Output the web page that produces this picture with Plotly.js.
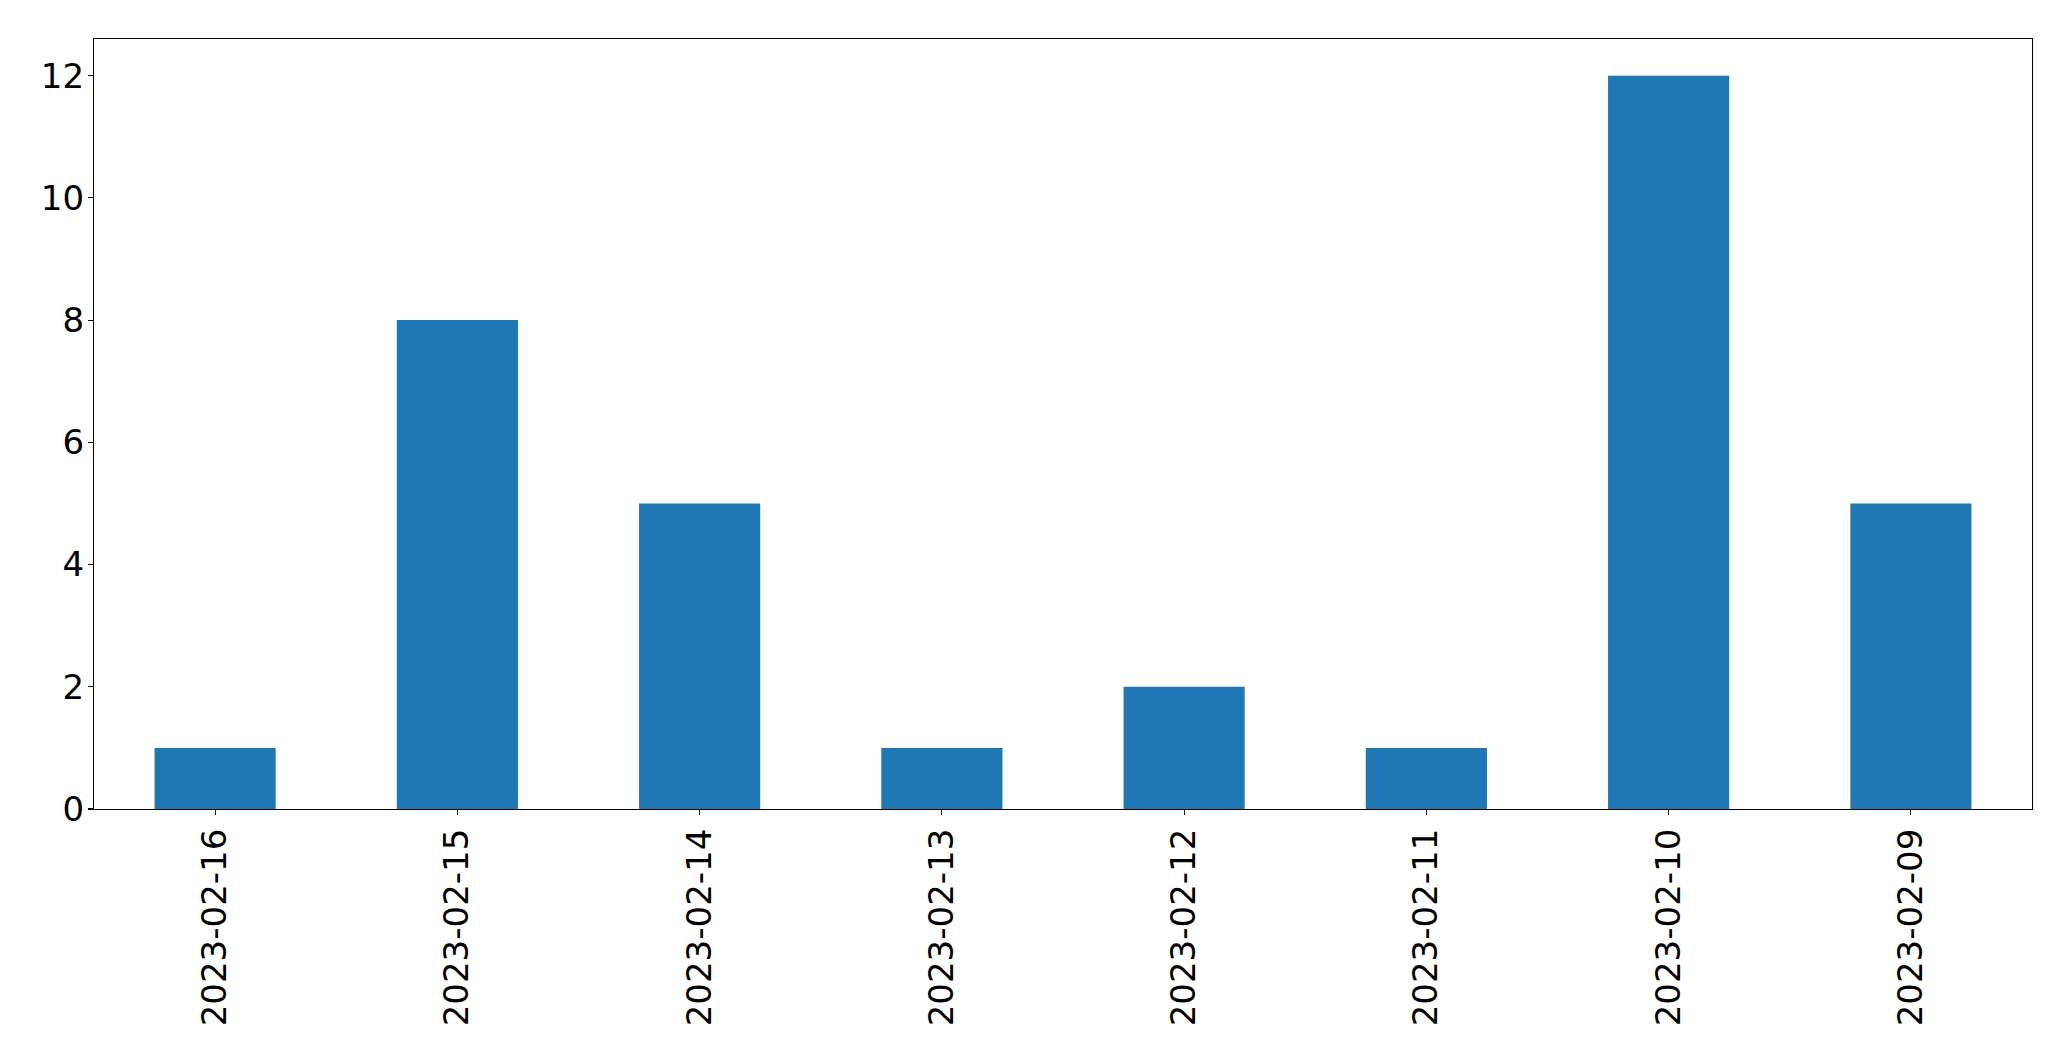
<!DOCTYPE html>
<html>
<head>
<meta charset="utf-8">
<script src="https://cdn.plot.ly/plotly-3.0.1.min.js"></script>
<style>html,body{margin:0;padding:0;background:#fff;}#chart{width:2071px;height:1061px;}</style>
</head>
<body>
<div id="chart"></div>
<script>
const dates = ["2023-02-16","2023-02-15","2023-02-14","2023-02-13","2023-02-12","2023-02-11","2023-02-10","2023-02-09"];
const counts = [1, 8, 5, 1, 2, 1, 12, 5];
const yTicks = [0, 2, 4, 6, 8, 10, 12];

const trace = {
  type: 'bar',
  x: dates,
  y: counts,
  width: 0.5,
  marker: {color: '#1f77b4', line: {width: 0}},
  hoverinfo: 'x+y'
};

const layout = {
  width: 2071,
  height: 1061,
  margin: {l: 94, r: 39, t: 39, b: 252, pad: 0},
  paper_bgcolor: '#ffffff',
  plot_bgcolor: '#ffffff',
  showlegend: false,
  bargap: 0.5,
  font: {family: 'DejaVu Sans', color: '#000000', size: 34},
  xaxis: {
    type: 'category',
    range: [-0.5, 7.5],
    tickangle: -90,
    ticks: 'outside',
    ticklen: 5,
    tickwidth: 1.1,
    tickcolor: '#000',
    showline: true,
    linecolor: '#000',
    linewidth: 1.1,
    mirror: true,
    showgrid: false,
    zeroline: false,
    ticklabelstandoff: 0,
    tickfont: {family: 'DejaVu Sans', size: 34, color: '#000'}
  },
  yaxis: {
    range: [0, 12.6],
    tickvals: yTicks,
    ticktext: yTicks.map(String),
    ticks: 'outside',
    ticklen: 5,
    tickwidth: 1.1,
    tickcolor: '#000',
    showline: true,
    linecolor: '#000',
    linewidth: 1.1,
    mirror: true,
    showgrid: false,
    zeroline: false,
    ticklabelstandoff: -3,
    tickfont: {family: 'DejaVu Sans', size: 34, color: '#000'}
  }
};

Plotly.newPlot('chart', [trace], layout, {displayModeBar: false, staticPlot: true});
</script>
</body>
</html>
